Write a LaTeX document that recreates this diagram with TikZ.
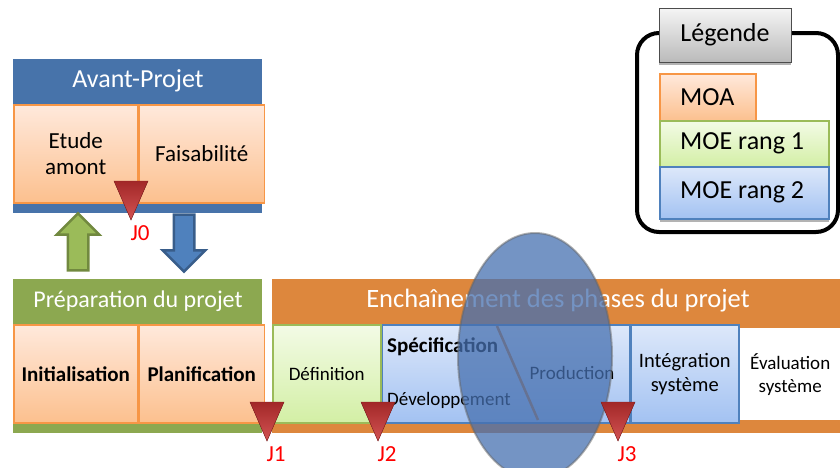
\documentclass[tikz,border=0pt]{standalone}
\usepackage{fontspec}
\setmainfont{Carlito}
\usepackage{tikz}
\usetikzlibrary{positioning,shapes.geometric,shapes.arrows,shadows}
\definecolor{headblue}{HTML}{4773AA}
\definecolor{headgreen}{HTML}{8CA850}
\definecolor{headorange}{HTML}{DD873D}
\definecolor{moaline}{HTML}{F79646}
\definecolor{moatop}{HTML}{FFE9DC}
\definecolor{moabot}{HTML}{FCC08E}
\definecolor{moeunline}{HTML}{9BBB59}
\definecolor{moeuntop}{HTML}{F3FBE6}
\definecolor{moeunbot}{HTML}{D3EFA5}
\definecolor{moedeuxline}{HTML}{4F81BD}
\definecolor{moedeuxtop}{HTML}{DDE8FA}
\definecolor{moedeuxbot}{HTML}{A3C2F2}
\definecolor{jaltop}{HTML}{A22828}
\definecolor{jalbot}{HTML}{D35353}
\definecolor{jred}{HTML}{FF0000}
\definecolor{flgreenline}{HTML}{71893F}
\definecolor{flblueline}{HTML}{385D8A}
\definecolor{loupeblue}{HTML}{4670B0}
\definecolor{coupecol}{HTML}{C8783A}
\tikzset{phasebg/.style={rectangle,inner sep=0pt,anchor=north west}}
\tikzset{headtext/.style={text=white,inner sep=0pt,font=\fontsize{24}{28}\selectfont}}
\tikzset{etape/.style={rectangle,inner sep=0pt,minimum height=98pt,anchor=north west,align=center,font=\fontsize{21}{25}\selectfont}}
\tikzset{moa/.style={draw=moaline,line width=1.5pt,top color=moatop,bottom color=moabot}}
\tikzset{moeun/.style={draw=moeunline,line width=1.5pt,top color=moeuntop,bottom color=moeunbot}}
\tikzset{moedeux/.style={draw=moedeuxline,line width=1.5pt,top color=moedeuxtop,bottom color=moedeuxbot}}
\tikzset{petit/.style={font=\fontsize{19}{23}\selectfont}}
\tikzset{jalon/.style={top color=jaltop,bottom color=jalbot,draw=jaltop!85!black,line width=.4pt}}
\tikzset{jlabel/.style={text=jred,inner sep=0pt,font=\fontsize{23}{26}\selectfont}}
\tikzset{fleche/.style={single arrow,inner sep=9pt,minimum height=57pt,single arrow head extend=11pt,line width=2.5pt}}
\tikzset{legcase/.style={rectangle,anchor=north west,inner sep=0pt}}
\tikzset{legtexte/.style={anchor=west,inner sep=0pt,font=\fontsize{26}{30}\selectfont}}

\begin{document}
\begin{tikzpicture}[x=1pt,y=-1pt]
  \useasboundingbox (0,0) rectangle (840,467);
  % avant-projet
  \node[phasebg,fill=headblue,minimum width=249pt,minimum height=154pt] (avant) at (13,59) {};
  \node[headtext,font=\fontsize{26}{30}\selectfont] (avanttitre) at (138,81) {Avant-Projet};
  \node[etape,moa,minimum width=124pt,font=\fontsize{23}{26}\selectfont] (etude) at (13,104) {Etude\\amont};
  \node[etape,moa,minimum width=125pt,font=\fontsize{23}{26}\selectfont,right=0pt of etude] (faisa) {Faisabilité};
  % fleches entre les phases
  \node[fleche,shape border rotate=90,fill=moeunline,draw=flgreenline] (monte) at (78,247) {};
  \node[fleche,shape border rotate=270,fill=moedeuxline,draw=flblueline] (descend) at (184,238) {};
  % preparation
  \node[phasebg,fill=headgreen,minimum width=249pt,minimum height=154pt] (prep) at (13,279) {};
  \node[headtext] (preptitre) at (138,301) {Préparation du projet};
  \node[etape,moa,minimum width=124pt,font=\fontsize{21}{25}\selectfont\bfseries] (init) at (13,324) {Initialisation};
  \node[etape,moa,minimum width=125pt,font=\fontsize{21}{25}\selectfont\bfseries,right=0pt of init] (planif) {Planification};
  % enchainement
  \node[phasebg,fill=headorange,minimum width=568pt,minimum height=154pt] (ench) at (272,279) {};
  \node[headtext,font=\fontsize{26.5}{30}\selectfont] (enchtitre) at (558,301) {Enchaînement des phases du projet};
  \node[etape,moeun,petit,minimum width=108pt] (defin) at (272,324) {Définition};
  \node[etape,moedeux,minimum width=247pt,right=0pt of defin] (specdev) {};
  \node[anchor=west,inner sep=0pt,font=\fontsize{21}{25}\selectfont\bfseries] (spec) at (387,347) {Spécification};
  \node[anchor=west,inner sep=0pt,petit] (dev) at (387,400) {Développement};
  \node[inner sep=0pt,petit] (prod) at (572,373) {Production};
  \draw[coupecol,line width=2.5pt] (497,326) -- (538,420);
  \node[etape,moedeux,font=\fontsize{20.5}{24}\selectfont,minimum width=108pt,right=0pt of specdev] (integ) {Intégration\\système};
  \node[etape,petit,fill=white,minimum width=100pt,minimum height=92pt] (evalu) at (740,328) {Évaluation\\système};
  % loupe
  \node[ellipse,fill=loupeblue,fill opacity=.75,draw=black!60,draw opacity=.5,line width=2pt,minimum width=154pt,minimum height=246pt] (loupe) at (535,356) {};
  % jalons
  \foreach \x/\y/\j in {131/181/0,267/402/1,378/402/2,618/402/3}{
    \fill[jalon] (\x-17,\y) -- (\x+17,\y) -- (\x,\y+39) -- cycle;
    \node[jlabel] (j\j) at (\x+9,\y+52) {J\j};
  }
  % legende
  \node[phasebg,draw=black,line width=4pt,rounded corners=22pt,minimum width=201pt,minimum height=199pt] (legende) at (635,31) {};
  \node[rectangle,draw=black!70,line width=1pt,top color=black!4,bottom color=black!27,minimum width=132pt,minimum height=54pt,font=\fontsize{26}{30}\selectfont,drop shadow={shadow xshift=0pt,shadow yshift=-3pt,fill=black!50,opacity=.6}] (legtitre) at (725,35) {Légende};
  \node[legcase,moa,minimum width=96pt,minimum height=47pt] (lmoa) at (659,73) {};
  \node[legcase,moeun,minimum width=169pt,minimum height=46pt] (lun) at (659,120) {};
  \node[legcase,moedeux,minimum width=169pt,minimum height=52pt,drop shadow={shadow xshift=0pt,shadow yshift=-3pt,fill=black!50,opacity=.6}] (ldeux) at (659,166) {};
  \node[legtexte,right=21pt of lmoa.west] (tmoa) {MOA};
  \node[legtexte,right=21pt of lun.west] (tun) {MOE rang 1};
  \node[legtexte,right=21pt of ldeux.west] (tdeux) {MOE rang 2};
\end{tikzpicture}
\end{document}
